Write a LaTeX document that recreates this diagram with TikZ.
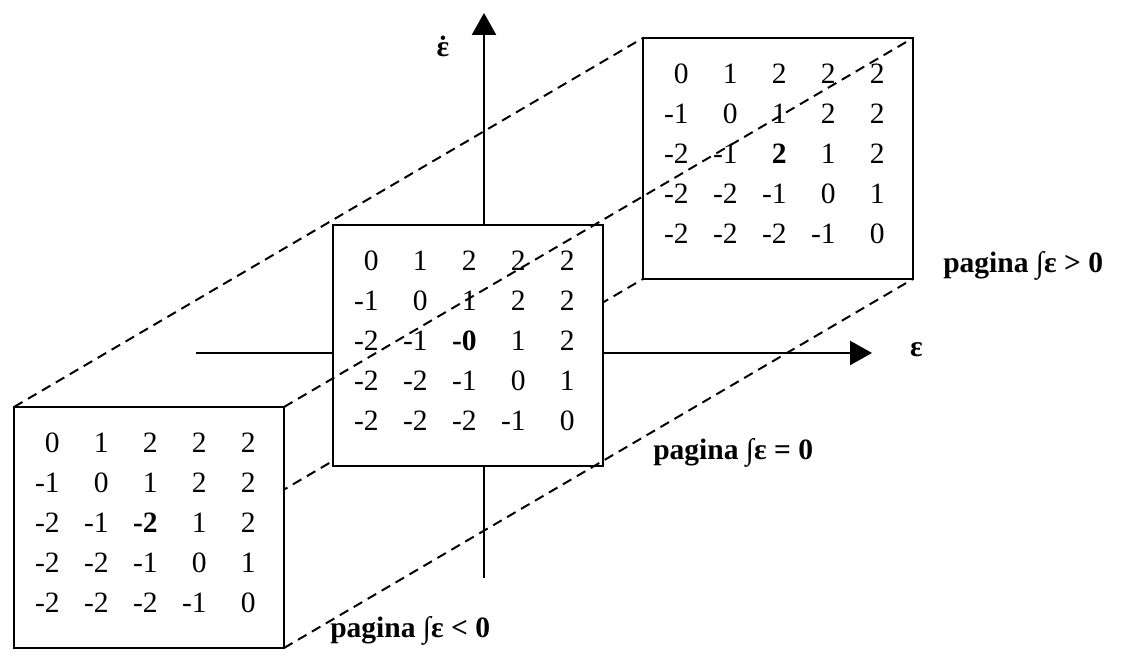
\documentclass[tikz,border=0pt]{standalone}
\usepackage{fontspec}
\setmainfont{Liberation Serif}
\usepackage{array}
\usetikzlibrary{arrows.meta,backgrounds}

% the matrix printed on every page, #1 = centre entry
\newcommand{\pagetab}[1]{%
  {\fontsize{21}{28.45}\selectfont\setlength{\tabcolsep}{0pt}%
  \begin{tabular}{*{5}{>{\raggedleft\arraybackslash}p{1.225cm}}}
    0 & 1 & 2 & 2 & 2\\
    -1 & 0 & 1 & 2 & 2\\
    -2 & -1 & #1 & 1 & 2\\
    -2 & -2 & -1 & 0 & 1\\
    -2 & -2 & -2 & -1 & 0
  \end{tabular}}}

\begin{document}
\begin{tikzpicture}[
    pagebox/.style={draw, line width=1.9pt, fill=white, minimum width=6.75cm,
      minimum height=6.025cm, inner sep=0pt, outer sep=0pt, anchor=south west},
    prism/.style={line width=1.4pt, dash pattern=on 7pt off 4.5pt},
    axisline/.style={line width=1.8pt, -{Triangle[length=0.55cm,width=0.6cm]}},
    lbl/.style={font=\fontsize{21}{25}\selectfont\bfseries, anchor=base west, inner sep=0pt}
  ]
  \useasboundingbox (0,0) rectangle (28.1,16.4);
  % the three pages
  \node[pagebox] (pneg) at (0.35,0.2) {};
  \node[pagebox] (pzero) at (8.325,4.75) {};
  \node[pagebox] (ppos) at (16.075,9.425) {};
  \node[anchor=north east, inner sep=0pt] (tneg) at ([shift={(6.05,-0.425)}]pneg.north west) {\pagetab{\textbf{-2}}};
  \node[anchor=north east, inner sep=0pt] (tzero) at ([shift={(6.05,-0.425)}]pzero.north west) {\pagetab{\textbf{-0}}};
  \node[anchor=north east, inner sep=0pt] (tpos) at ([shift={(6.05,-0.425)}]ppos.north west) {\pagetab{\textbf{2}}};
  % axes and hidden edge
  \coordinate (xl) at (4.9,7.575);
  \coordinate (xr) at (21.8,7.575);
  \coordinate (yb) at (12.1,1.95);
  \coordinate (yt) at (12.1,16.075);
  \begin{scope}[on background layer]
    \draw[prism] (pneg.south west) -- (ppos.south west);
    \draw[axisline] (xl) -- (xr);
    \draw[axisline] (yb) -- (yt);
  \end{scope}
  % visible edges
  \draw[prism] (pneg.north west) -- (ppos.north west);
  \draw[prism] (pneg.north east) -- (ppos.north east);
  \draw[prism] (pneg.south east) -- (ppos.south east);
  \node[lbl] (lpos) at (23.575,9.575) {pagina ∫ε > 0};
  \node[lbl] (lzero) at (16.325,4.9) {pagina ∫ε = 0};
  \node[lbl] (lneg) at (8.25,0.45) {pagina ∫ε < 0};
  \node[lbl, anchor=base] (edot) at (11.075,14.975) {\ooalign{ε\cr\hidewidth˙\hidewidth}};
  \node[lbl, anchor=base] (eps) at (22.91,7.475) {ε};
\end{tikzpicture}
\end{document}
